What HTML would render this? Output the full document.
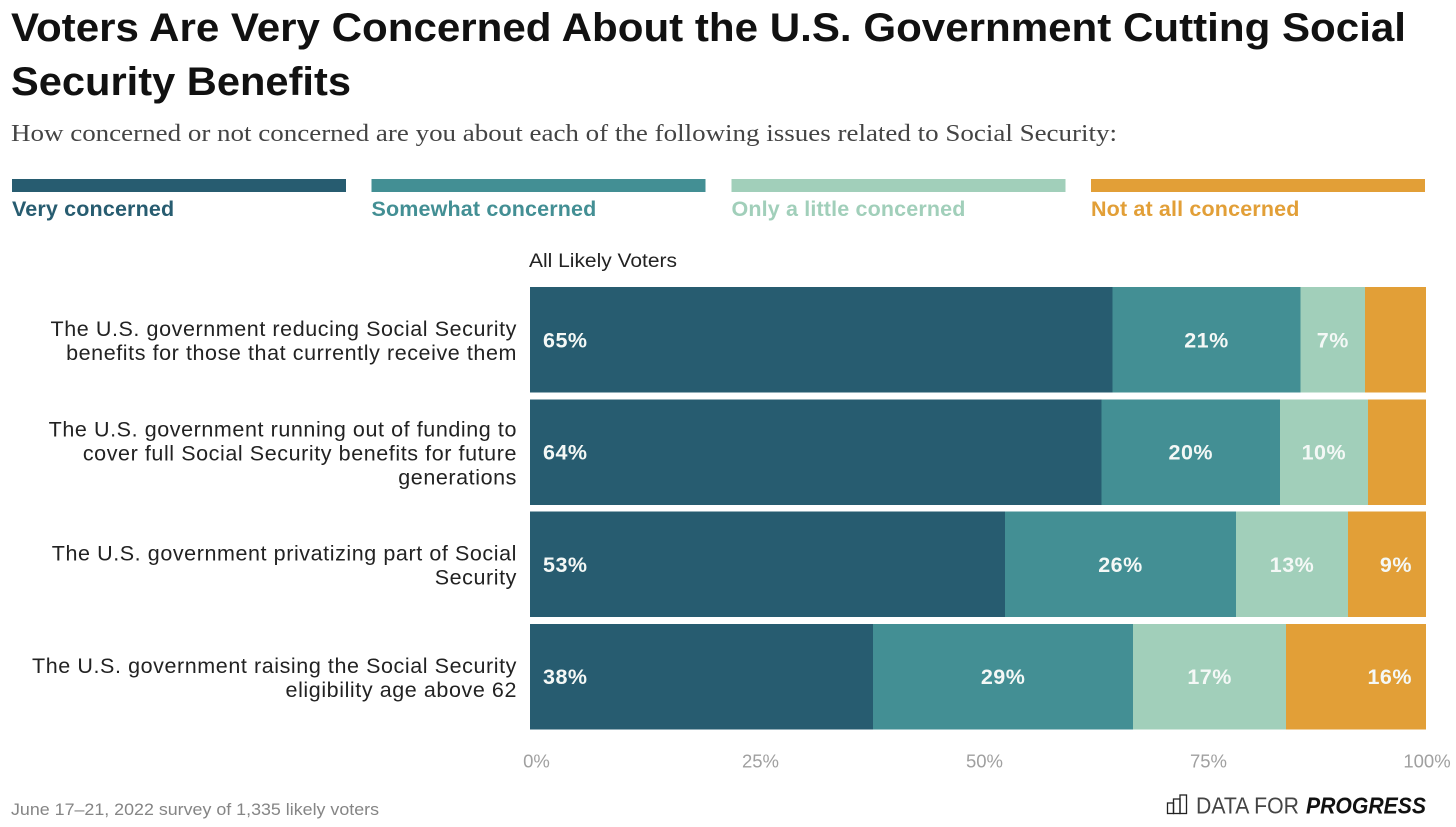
<!DOCTYPE html>
<html lang="en">
<head>
<meta charset="utf-8">
<title>Voters Are Very Concerned About the U.S. Government Cutting Social Security Benefits</title>
<style>
html,body{margin:0;padding:0;background:#fff;width:1456px;height:827px;overflow:hidden}
svg{display:block}
text{font-family:"Liberation Sans",sans-serif}
</style>
</head>
<body>
<svg id="chart" xmlns="http://www.w3.org/2000/svg" width="1456" height="827" viewBox="0 0 1456 827">
  <text x="11" y="41" font-size="39.5" font-weight="700" fill="#111" textLength="1395" lengthAdjust="spacingAndGlyphs">Voters Are Very Concerned About the U.S. Government Cutting Social</text>
  <text x="11" y="95" font-size="39.5" font-weight="700" fill="#111" textLength="340" lengthAdjust="spacingAndGlyphs">Security Benefits</text>
  <text x="11" y="141" font-size="24" fill="#444" style="font-family:'Liberation Serif',serif" textLength="1106" lengthAdjust="spacingAndGlyphs">How concerned or not concerned are you about each of the following issues related to Social Security:</text>
  <g id="legend"></g>
  <text x="529" y="267" font-size="19" fill="#222" textLength="148" lengthAdjust="spacingAndGlyphs">All Likely Voters</text>
  <g id="labels"></g>
  <g id="bars"></g>
  <g id="axis"></g>
  <text x="11" y="815" font-size="17" font-weight="400" fill="#858585" textLength="368" lengthAdjust="spacingAndGlyphs">June 17–21, 2022 survey of 1,335 likely voters</text>
  <g>
    <g fill="none" stroke="#222" stroke-width="1.3">
      <rect x="1167.5" y="803" width="6" height="10.5"></rect>
      <rect x="1173.5" y="799" width="6.5" height="14.5"></rect>
      <rect x="1180" y="795" width="6.5" height="18.5"></rect>
    </g>
    <text x="1196" y="813.5" font-size="23.5" fill="#444" textLength="103" lengthAdjust="spacingAndGlyphs">DATA FOR</text>
    <text x="1306" y="813.5" font-size="23.5" font-weight="700" font-style="italic" fill="#111" textLength="120" lengthAdjust="spacingAndGlyphs">PROGRESS</text>
  </g>
</svg>
<script>
var seriesNames = ["Very concerned", "Somewhat concerned", "Only a little concerned", "Not at all concerned"];
var seriesColors = ["#275c70", "#438f94", "#a1cfba", "#e29f37"];
var categories = [
  ["The U.S. government reducing Social Security", "benefits for those that currently receive them"],
  ["The U.S. government running out of funding to", "cover full Social Security benefits for future", "generations"],
  ["The U.S. government privatizing part of Social", "Security"],
  ["The U.S. government raising the Social Security", "eligibility age above 62"]
];
var veryConcerned = [65, 63.8, 53, 38.3];
var somewhatConcerned = [21, 19.9, 25.8, 29];
var littleConcerned = [7.2, 9.8, 12.5, 17.1];
var notConcerned = [6.8, 6.5, 8.7, 15.6];
var axisTicks = [0, 25, 50, 75, 100];

var NS = "http://www.w3.org/2000/svg";
var series = [veryConcerned, somewhatConcerned, littleConcerned, notConcerned];

function make(tag, attrs, parent, txt) {
  var el = document.createElementNS(NS, tag);
  for (var k in attrs) el.setAttribute(k, attrs[k]);
  if (txt !== undefined) el.textContent = txt;
  parent.appendChild(el);
  return el;
}
function xScale(v) { return 530 + v * 8.96; }
function tickScale(v) { return Math.min(xScale(v) + 6.5, 1427); }
function rowTop(i) { return 287 + i * 112.3; }
var rowHeight = 105.6;

var legendG = document.getElementById("legend");
seriesNames.forEach(function (name, i) {
  var lx = 12 + i * 359.5 + (i > 1 ? 0.5 : 0);
  var sw = make("rect", { x: lx, y: 179, width: 334, height: 13, fill: seriesColors[i], "shape-rendering": "crispEdges" }, legendG);
  
  
  var lt = make("text", { x: lx, y: 216, "font-size": 21.5, "font-weight": 700, "letter-spacing": 0.15, fill: seriesColors[i] }, legendG, name);
  
  
});

var labelsG = document.getElementById("labels");
categories.forEach(function (lines, i) {
  var mid = rowTop(i) + rowHeight / 2;
  var first = mid - (lines.length - 1) * 12 + 8.2;
  lines.forEach(function (line, j) {
    var t = make("text", { x: 517, y: first + j * 24, "font-size": 21.5, fill: "#222", "text-anchor": "end", "letter-spacing": 0.58 }, labelsG, line);
    
    
  });
});

var barsG = document.getElementById("bars");
categories.forEach(function (lines, i) {
  var cum = 0;
  series.forEach(function (vals, s) {
    var v = vals[i];
    var x0 = xScale(cum), x1 = xScale(cum + v);
    var r = make("rect", { x: x0, y: rowTop(i), width: x1 - x0, height: rowHeight, fill: seriesColors[s], "shape-rendering": "crispEdges" }, barsG);
    
    
    if (v >= 7) {
      var tx, anchor;
      if (s === 0) { tx = x0 + 13; anchor = "start"; }
      else if (s === 3) { tx = x1 - 14; anchor = "end"; }
      else { tx = (x0 + x1) / 2; anchor = "middle"; }
      var t = make("text", { x: tx, y: rowTop(i) + rowHeight / 2 + 7.5, "font-size": 21.5, "font-weight": 700, "letter-spacing": 0.5, fill: "#f4f8f6", "text-anchor": anchor }, barsG, Math.round(v) + "%");
      
      
    }
    cum += v;
  });
});

var axisG = document.getElementById("axis");
axisTicks.forEach(function (v) {
  var t = make("text", { x: tickScale(v), y: 767.5, "font-size": 18.5, fill: "#a0a0a0", "text-anchor": "middle" }, axisG, v + "%");
  
  
});
</script>
</body>
</html>
